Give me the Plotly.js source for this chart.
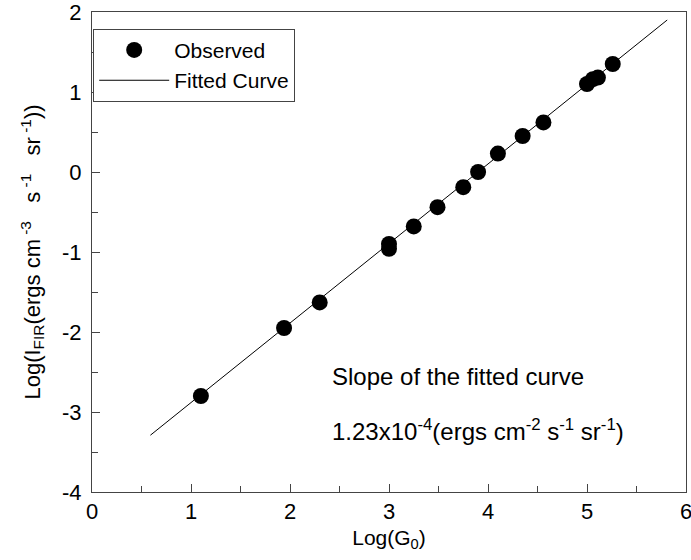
<!DOCTYPE html>
<html>
<head>
<meta charset="utf-8">
<script src="https://cdn.plot.ly/plotly-3.0.1.min.js"></script>
<style>html,body{margin:0;padding:0;background:#fff;}#chart{width:691px;height:560px;}</style>
</head>
<body>
<div id="chart"></div>
<script>
// Observed points: Log(G0) vs Log(I_FIR)
var obsX = [1.10, 1.94, 2.30, 3.00, 3.00, 3.25, 3.49, 3.75, 3.90, 4.10, 4.35, 4.56, 5.00, 5.06, 5.11, 5.26];
var obsY = [-2.80, -1.95, -1.63, -0.90, -0.96, -0.68, -0.44, -0.19, 0.00, 0.23, 0.45, 0.62, 1.10, 1.16, 1.18, 1.35];
// Fitted curve endpoints
var fitX = [0.59, 5.81];
var fitY = [-3.29, 1.90];
// Tick labels
var xTickVals = [0, 1, 2, 3, 4, 5, 6];
var xTickText = ["0", "1", "2", "3", "4", "5", "6"];
var yTickVals = [-4, -3, -2, -1, 0, 1, 2];
var yTickText = ["-4", "-3", "-2", "-1", "0", "1", "2"];

var FONT = "Liberation Sans, Arial, Helvetica, sans-serif";
var NB = "\u00a0";

var traces = [
  {x: obsX, y: obsY, type: "scatter", mode: "markers", name: "Observed",
   marker: {color: "#000", size: 16, line: {width: 0}}},
  {x: fitX, y: fitY, type: "scatter", mode: "lines", name: "Fitted Curve",
   line: {color: "#000", width: 1}}
];

var axisCommon = {
  showgrid: false, zeroline: false, showline: true, mirror: true,
  linecolor: "#444", linewidth: 1,
  ticks: "inside", ticklen: 8, tickwidth: 1, tickcolor: "#444",
  minor: {ticks: "inside", ticklen: 6, dtick: 0.5, tickcolor: "#444", tickwidth: 1, showgrid: false},
  tickfont: {family: FONT, size: 22, color: "#000"},
  ticklabeloverflow: "allow",
  tickmode: "array"
};

var yTitle = NB + NB + NB + NB + NB + "Log(I<sub>FIR</sub>(ergs cm<sup>" + NB + "-3</sup>" + NB + NB + NB +
  "s<sup>" + NB + "-1</sup>" + NB + NB + NB + "sr<sup>" + NB + "-1</sup>))";

var layout = {
  width: 691, height: 560,
  margin: {l: 92, r: 5, t: 12, b: 68},
  paper_bgcolor: "#fff", plot_bgcolor: "#fff",
  font: {family: FONT, size: 21, color: "#000"},
  showlegend: true,
  legend: {
    x: 0.002, y: 0.965, xanchor: "left", yanchor: "top",
    bordercolor: "#444", borderwidth: 1, bgcolor: "#fff",
    font: {family: FONT, size: 21, color: "#000"},
    itemwidth: 70, tracegroupgap: 0
  },
  xaxis: Object.assign({}, axisCommon, {
    range: [0, 6], tickvals: xTickVals, ticktext: xTickText,
    ticklabelstandoff: 0,
    title: {text: "Log(G<sub>0</sub>)", font: {family: FONT, size: 21}, standoff: 6}
  }),
  yaxis: Object.assign({}, axisCommon, {
    range: [-4, 2], tickvals: yTickVals, ticktext: yTickText,
    ticklabelstandoff: 5,
    title: {text: yTitle, font: {family: FONT, size: 22}, standoff: 15}
  }),
  annotations: [
    {xref: "paper", yref: "paper", x: 0.40, y: 0.24, xanchor: "left", yanchor: "middle",
     text: "Slope of the fitted curve", showarrow: false, font: {family: FONT, size: 24}},
    {xref: "paper", yref: "paper", x: 0.40, y: 0.13, xanchor: "left", yanchor: "middle",
     text: "1.23x10<sup>-4</sup>(ergs cm<sup>-2</sup> s<sup>-1</sup> sr<sup>-1</sup>)", showarrow: false, font: {family: FONT, size: 24}}
  ]
};

Plotly.newPlot("chart", traces, layout, {displayModeBar: false, staticPlot: true});
</script>
</body>
</html>
